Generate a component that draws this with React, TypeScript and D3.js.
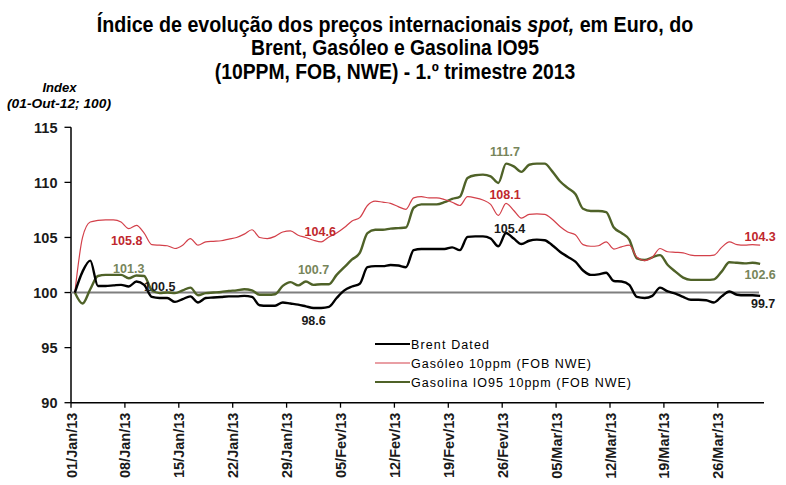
import React from "react";
import * as d3 from "d3";

const titleLines = [
  "Índice de evolução dos preços internacionais ",
  "Brent, Gasóleo e Gasolina IO95",
  "(10PPM, FOB, NWE) - 1.º trimestre 2013",
];

const startDate = "2013-01-01";
const endDate = "2013-04-01";

const tickDates = [
  "2013-01-01", "2013-01-08", "2013-01-15", "2013-01-22", "2013-01-29",
  "2013-02-05", "2013-02-12", "2013-02-19", "2013-02-26", "2013-03-05",
  "2013-03-12", "2013-03-19", "2013-03-26",
];
const tickLabels = [
  "01/Jan/13", "08/Jan/13", "15/Jan/13", "22/Jan/13", "29/Jan/13",
  "05/Fev/13", "12/Fev/13", "19/Fev/13", "26/Fev/13", "05/Mar/13",
  "12/Mar/13", "19/Mar/13", "26/Mar/13",
];
const yTicks = [90, 95, 100, 105, 110, 115];

const seriesNames = ["Brent Dated", "Gasóleo 10ppm (FOB NWE)", "Gasolina IO95 10ppm  (FOB NWE)"];

// daily values, 01/Jan/13 .. 31/Mar/13
const brent = [
  100.0, 101.9, 102.9, 100.6, 100.6, 100.65, 100.7, 100.55, 101.0, 100.7,
  99.6, 99.5, 99.5, 99.15, 99.4, 99.65, 99.1, 99.5, 99.55, 99.6,
  99.65, 99.65, 99.7, 99.6, 98.85, 98.8, 98.8, 99.1, 99.0, 98.9,
  98.75, 98.6, 98.6, 98.7, 99.5, 100.2, 100.55, 100.8, 102.3, 102.4,
  102.4, 102.5, 102.45, 102.3, 103.85, 103.95, 103.95, 103.95, 103.95, 104.1,
  103.85, 105.05, 105.1, 105.1, 104.9, 104.2, 105.4, 104.9, 104.4, 104.7,
  104.8, 104.75, 104.3, 103.7, 103.25, 102.8, 102.0, 101.6, 101.65, 101.8,
  101.05, 101.0, 100.7, 99.6, 99.5, 99.7, 100.45, 100.1, 99.9, 99.6,
  99.35, 99.35, 99.3, 99.1, 99.65, 100.1, 99.8, 99.75, 99.75, 99.7,
];
const gasoleo = [
  100.0, 105.0, 106.4, 106.55, 106.6, 106.6, 106.4, 105.8, 106.1, 105.4,
  104.35, 104.3, 104.25, 104.0, 104.3, 104.9, 104.3, 104.6, 104.65, 104.7,
  104.85, 105.0, 105.3, 105.7, 105.0, 104.9, 105.1, 105.5, 105.6, 105.2,
  105.0, 104.75, 104.6, 105.05, 105.4, 105.9, 106.5, 106.8, 107.9, 108.3,
  108.2, 108.1, 107.8, 107.55, 108.6, 108.7, 108.6, 108.6, 108.45, 108.2,
  107.9, 108.7, 108.6, 108.4, 108.0, 107.0, 108.1, 107.45, 106.75, 107.1,
  107.15, 107.1, 106.65, 106.0, 105.5, 105.25, 104.35, 104.2, 104.25, 104.6,
  103.95, 104.15, 104.3, 103.2, 102.9, 103.2, 104.0, 103.7, 103.65, 103.6,
  103.4, 103.35, 103.35, 103.4, 104.1, 104.6, 104.35, 104.3, 104.35, 104.3,
];
const gasolina = [
  100.0, 99.0, 100.3, 101.5, 101.6, 101.6, 101.6, 101.3, 101.55, 101.5,
  100.2, 99.95, 100.0, 99.95, 100.2, 100.45, 99.75, 99.95, 100.0, 100.05,
  100.15, 100.2, 100.3, 100.2, 99.8, 99.8, 99.85, 100.6, 100.95, 100.65,
  101.0, 100.7, 100.75, 100.75, 101.6, 102.3, 103.0, 103.6, 105.4, 105.7,
  105.7, 105.8, 105.85, 105.9, 107.7, 108.0, 108.0, 108.0, 108.2, 108.5,
  108.7, 110.4, 110.65, 110.7, 110.55, 109.95, 111.7, 111.45, 110.95, 111.6,
  111.7, 111.7, 111.0, 110.1, 109.5, 108.95, 107.6, 107.4, 107.4, 107.3,
  105.9, 105.4, 104.8, 103.1, 102.95, 103.2, 103.4, 102.5, 101.9, 101.35,
  101.15, 101.15, 101.15, 101.2, 101.9, 102.75, 102.7, 102.65, 102.7, 102.6,
];

const seriesValues = [brent, gasoleo, gasolina];
const seriesColors = ["#000000", "#d3404a", "#4f6228"];
const seriesWidths = [2.4, 1.2, 2.4];
const labelColors = ["#1a1a1a", "#c0272d", "#77855a"];

// data labels: [series, day index, text, dx, dy]
const dataLabels: [number, number, string, number, number][] = [
  [1, 7, "105.8", -2, 11.6],
  [2, 7, "101.3", 0, -10],
  [0, 7, "100.5", 31, 0],
  [1, 32, "104.6", -1, -10.5],
  [2, 31, "100.7", 0, -15.7],
  [0, 31, "98.6", 0, 13],
  [2, 56, "111.7", -1, -12],
  [1, 56, "108.1", -1, -9],
  [0, 56, "105.4", 3.5, -5],
  [1, 89, "104.3", 0, -9],
  [2, 89, "102.6", 0, 11],
  [0, 89, "99.7", 3, 7.5],
];

const W = 786;
const H = 485;
const font = "'Liberation Sans', Arial, sans-serif";

export default function App() {
  const parse = d3.utcParse("%Y-%m-%d");
  const x = d3.scaleUtc().domain([parse(startDate)!, parse(endDate)!]).range([71, 764]);
  const y = d3.scaleLinear().domain([90, 115]).range([402.7, 127.3]);
  const days = d3.utcDay.range(parse(startDate)!, parse(endDate)!);
  const half = (x(days[1]) - x(days[0])) / 2;
  const px = (i: number) => x(days[i]) + half;

  const line = d3
    .line<number>()
    .x((_, i) => px(i))
    .y((v) => y(v))
    .curve(d3.curveMonotoneX);

  const order = [2, 1, 0];

  return (
    <svg width={W} height={H} style={{ position: "absolute", left: 0, top: 0, background: "#fff" }}>
      <rect width={W} height={H} fill="#fff" />
      {/* title */}
      <g fontFamily={font} fontWeight="bold" fontSize={21.5} textAnchor="middle" fill="#000">
        <g transform="translate(395,31.5) scale(0.915,1)">
          <text x={0} y={0}>
            {titleLines[0]}
            <tspan fontStyle="italic">spot,</tspan>
            {" em Euro, do"}
          </text>
        </g>
        <g transform="translate(395,55) scale(0.9,1)">
          <text x={0} y={0}>{titleLines[1]}</text>
        </g>
        <g transform="translate(395,78.5) scale(0.9,1)">
          <text x={0} y={0}>{titleLines[2]}</text>
        </g>
      </g>
      {/* y axis title */}
      <g fontFamily={font} fontWeight="bold" fontStyle="italic" fontSize={12.5} textAnchor="middle" fill="#000">
        <text x={59.5} y={91.5} textLength={34} lengthAdjust="spacingAndGlyphs">Index</text>
        <text x={59} y={108} textLength={104} lengthAdjust="spacingAndGlyphs">(01-Out-12;  100)</text>
      </g>
      {/* y axis */}
      <line x1={71} x2={71} y1={y(115)} y2={y(90)} stroke="#000" strokeWidth={1.5} />
      {yTicks.map((t) => (
        <g key={t}>
          <line x1={64.5} x2={71} y1={y(t)} y2={y(t)} stroke="#000" strokeWidth={1.3} />
          <text x={57.5} y={y(t)} dy="0.36em" textAnchor="end" fontFamily={font} fontWeight="bold" fontSize={14.5} fill="#1a1a1a">
            {t}
          </text>
        </g>
      ))}
      {/* 100 reference line */}
      <line x1={71} x2={759} y1={y(100)} y2={y(100)} stroke="#7f7f7f" strokeWidth={2} />
      {/* x axis */}
      <line x1={71} x2={764} y1={y(90)} y2={y(90)} stroke="#000" strokeWidth={1.5} />
      {tickDates.map((d, i) => {
        const tx = x(parse(d)!);
        return (
          <g key={d}>
            <line x1={tx} x2={tx} y1={y(90)} y2={y(90) + 5} stroke="#000" strokeWidth={1.3} />
            <text
              transform={`translate(${tx + 5.5},${y(90) + 10}) rotate(-90)`}
              textAnchor="end"
              fontFamily={font}
              fontWeight="bold"
              fontSize={14.5}
              fill="#1a1a1a"
            >
              {tickLabels[i]}
            </text>
          </g>
        );
      })}
      {/* series */}
      {order.map((s) => (
        <path key={s} d={line(seriesValues[s]) || ""} fill="none" stroke={seriesColors[s]} strokeWidth={seriesWidths[s]} strokeLinejoin="round" />
      ))}
      {/* data labels */}
      {dataLabels.map(([s, i, t, dx, dy], k) => (
        <text
          key={k}
          x={px(i) + dx}
          y={y(seriesValues[s][i]) + dy}
          dy="0.36em"
          textAnchor="middle"
          fontFamily={font}
          fontWeight="bold"
          fontSize={12.5}
          fill={labelColors[s]}
        >
          {t}
        </text>
      ))}
      {/* legend */}
      {seriesNames.map((n, i) => (
        <g key={n} transform={`translate(375,${344 + i * 19})`}>
          <line x1={0} x2={35} y1={0} y2={0} stroke={seriesColors[i]} strokeWidth={i === 1 ? 1.2 : 2} />
          <text x={36} y={0} dy="0.36em" fontFamily={font} fontSize={12.5} fill="#000" textLength={[78, 180, 220][i]} lengthAdjust="spacing">
            {n}
          </text>
        </g>
      ))}
    </svg>
  );
}
